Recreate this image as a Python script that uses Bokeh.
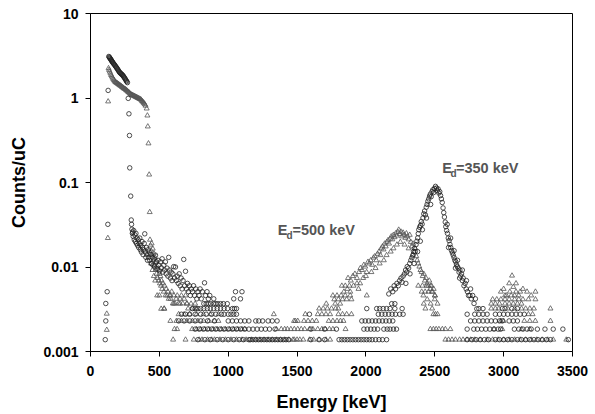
from bokeh.plotting import figure
from bokeh.models import FixedTicker, CustomJSTickFormatter, Label
from bokeh.embed import file_html
from bokeh.resources import INLINE

# ---------------- data ----------------
x_ticks = [0, 500, 1000, 1500, 2000, 2500, 3000, 3500]
y_ticks = [0.001, 0.01, 0.1, 1, 10]

# count levels of the lowest quantised rows (Counts/uC)
L3, L4, L5, L6, L7, L8, L9 = 0.00138, 0.00184, 0.0023, 0.00276, 0.00322, 0.00368, 0.00414

# ---- E_d = 350 keV (open circles) ----
c_low_x = [107, 111, 111, 121, 126, 128]
c_low_y = [0.00138, 0.0023, 0.0037, 0.0051, 0.032, 1.23]

c_curve_x = [133, 136, 139, 142, 145, 148, 151, 154, 157, 160, 164, 168, 172, 176, 180, 184, 188, 192, 196, 200,
             204, 208, 212, 216, 220, 224, 228, 232, 236, 240, 244, 248, 252, 256, 260, 264, 268]
c_curve_y = [3.10, 3.05, 3.0, 2.95, 2.9, 2.85, 2.8, 2.75, 2.7, 2.66, 2.6, 2.55, 2.5, 2.45, 2.4, 2.35, 2.3, 2.25, 2.2, 2.15,
             2.1, 2.05, 2.0, 1.98, 1.95, 1.92, 1.9, 1.87, 1.84, 1.8, 1.76, 1.72, 1.68, 1.64, 1.6, 1.56, 1.52]

c_drop_x = [274, 279, 283, 285, 292, 296, 298, 301, 304]
c_drop_y = [0.99, 0.65, 0.36, 0.149, 0.069, 0.036, 0.032, 0.028, 0.025]

c_cloud_x = [306, 310, 314, 318, 322, 326, 330, 334, 338, 342, 346, 350, 354, 358, 362, 366, 370, 374, 378, 382,
             386, 390, 394, 398, 402, 406, 410, 414, 418, 422, 426, 430, 436, 442, 448, 454, 460, 466, 472, 478,
             484, 490, 496, 502, 508, 514, 520, 526, 532, 538, 544, 550, 556, 562, 568, 574, 580, 586, 592, 598,
             604, 610, 617, 624, 630, 637, 644, 651, 658, 665, 672, 677, 684, 690, 697, 704, 711, 718, 725, 732,
             740, 748, 756, 764, 772, 780, 788, 796, 804, 812, 828, 836, 846, 856, 866, 895, 1040, 1053, 1089, 1100]
c_cloud_y = [.026, .023, .027, .021, .024, .020, .025, .019, .022, .018, .021, .017, .019, .022, .016, .018, .015, .020, .017, .014,
             .016, .019, .0247, .015, .013, .017, .014, .012, .016, .013, .015, .012, .014, .011, .013, .0105, .0125, .010, .0138, .0115,
             .0095, .012, .0105, .009, .0115, .0098, .0125, .0087, .0105, .0092, .0115, .0083, .0097, .0078, .013, .0092, .0074, .0087, .0069, .0083,
             .0101, .0074, .010, .0069, .0078, .0064, .0083, .0060, .0074, .0055, .0069, .0123, .0060, .0089, .0055, .0064, .0051, .0060, .0046, .0055,
             .0051, .0060, .0046, .0055, .0042, .0051, .0046, .0055, .0042, .0051, .0065, .0046, .0051, .0042, .0046, .0042, .0042, .0051, .0042, .0051]

c_peak_x = [2166, 2180, 2195, 2205, 2215, 2225, 2235, 2245, 2255, 2262, 2270, 2280, 2288, 2296, 2300, 2310, 2318, 2326, 2334, 2340,
            2346, 2352, 2358, 2364, 2370, 2376, 2380, 2384, 2390, 2396, 2402, 2408, 2414, 2420, 2426, 2432, 2438, 2444, 2450, 2456,
            2462, 2468, 2474, 2480, 2486, 2492, 2498, 2505, 2512, 2518, 2524, 2530, 2536, 2542, 2548, 2554, 2560, 2565, 2570, 2576,
            2580, 2586, 2592, 2598, 2604, 2610, 2616, 2622, 2628, 2634, 2640, 2646, 2652, 2658, 2664, 2670, 2676, 2682, 2688, 2694,
            2700, 2706, 2712, 2720, 2728, 2737, 2745, 2755, 2765, 2775, 2785, 2795, 2805,
            2290, 2320, 2350, 2375, 2395, 2410, 2440, 2470,
            2590, 2615, 2640, 2665, 2700, 2730, 2760, 2600, 2650, 2680]
c_peak_y = [.0048, .0055, .0051, .0060, .0055, .0064, .0060, .0069, .0074, .0066, .0078, .0083, .0092, .0087, .0101, .0097, .0110, .0120, .0129, .0138,
            .0152, .0166, .0152, .0184, .0202, .0221, .0248, .0276, .0295, .031, .0345, .0322, .038, .0426, .046, .0414, .051, .055, .060, .064,
            .069, .073, .068, .078, .082, .076, .085, .090, .086, .080, .084, .075, .078, .070, .064, .058, .050, .044, .039, .034,
            .030, .027, .025, .022, .0205, .0185, .017, .0156, .0147, .0138, .0129, .0120, .0115, .0106, .0101, .0097, .0087, .0092, .0078, .0083,
            .0069, .0074, .0060, .0064, .0055, .0051, .0046, .0046, .0042, .0046, .0037, .0042, .0032,
            .0064, .0083, .0110, .0152, .0202, .0276, .0380, .055,
            .032, .022, .0156, .0120, .0092, .0069, .0055, .017, .0097, .0074]

c_l8_x = [823, 840, 855, 872, 895, 910, 925, 945, 965, 993, 2187, 2210]
c_l7_x = [740, 760, 780, 800, 823, 848, 870, 895, 920, 944, 970, 995, 1030, 1045, 1060, 2006, 2078, 2100, 2125, 2150,
          2175, 2210, 2263, 2820, 2850, 2990, 3010, 3060, 3100]
c_l6_x = [660, 690, 720, 760, 800, 840, 880, 910, 950, 970, 1000, 1020, 1040, 1060, 1590, 2090, 2115, 2140, 2165, 2190,
          2215, 2245, 2270, 2735, 2790, 2820, 2850, 2880, 2940, 2970, 3000, 3030, 3060, 3090, 3120, 3150]
c_l5_x = [640, 680, 720, 760, 800, 850, 900, 1000, 1030, 1060, 1090, 1120, 1150, 1200, 1222, 1250, 1290, 1320, 1355, 1970,
          1995, 2020, 2045, 2070, 2095, 2120, 2145, 2170, 2195, 2760, 2790, 2820, 2850, 2880, 2910, 2940, 2970, 2990, 3040, 3070, 3100]
c_l4_x = [760, 790, 820, 850, 880, 910, 940, 970, 1000, 1030, 1060, 1090, 1120, 1150, 1180, 1210, 1240, 1270, 1300, 1340,
          1600, 1700, 1786, 1985, 2010, 2035, 2060, 2085, 2130, 2155, 2175, 2200, 2222, 2735, 2783, 2810, 2840, 2870, 2900, 2930,
          2960, 2978, 3078, 3110, 3140, 3170, 3200, 3245, 3300, 3360, 3430]
c_l3_x = [780, 830, 870, 920, 960, 1000, 1040, 1080, 1110, 1150, 1160, 1180, 1200, 1220, 1240, 1260, 1280, 1300, 1320, 1340,
          1360, 1380, 1400, 1420, 1440, 1600, 1660, 1700, 1805, 1825, 1845, 1865, 1885, 1905, 1925, 1945, 1965, 1985, 2005, 2025,
          2045, 2070, 2095, 2120, 2150, 2735, 2770, 2800, 2830, 2860, 2890, 2940, 2970, 3000, 3030, 3060, 3100, 3130, 3160, 3190,
          3220, 3250, 3280, 3310, 3340, 3470]

# ---- E_d = 500 keV (open triangles) ----
t_low_x = [118, 118, 126, 128]
t_low_y = [0.0018, 0.0028, 0.022, 0.91]

t_curve_x = [131, 135, 140, 145, 150, 155, 160, 165, 170, 175, 180, 185, 190, 195, 200, 205, 210, 215, 220, 225,
             230, 235, 240, 245, 250, 255, 260, 265, 270, 275, 280, 285, 290, 295, 300, 305, 310, 315, 320, 325,
             330, 335, 340, 345, 350, 355, 360, 365, 370, 375, 380, 385, 390, 395, 400]
t_curve_y = [2.25, 2.15, 2.05, 1.95, 1.87, 1.8, 1.74, 1.68, 1.63, 1.59, 1.55, 1.53, 1.51, 1.49, 1.47, 1.45, 1.43, 1.41, 1.39, 1.37,
             1.35, 1.33, 1.31, 1.29, 1.28, 1.26, 1.24, 1.22, 1.2, 1.18, 1.16, 1.14, 1.12, 1.1, 1.09, 1.08, 1.07, 1.06, 1.05, 1.04,
             1.03, 1.02, 1.01, 1.0, 0.99, 0.98, 0.97, 0.96, 0.94, 0.92, 0.9, 0.88, 0.86, 0.84, 0.81]

t_drop_x = [408, 413, 416, 421, 426, 430]
t_drop_y = [0.75, 0.62, 0.46, 0.29, 0.124, 0.0446]

t_cloud_x = [432, 436, 440, 444, 448, 452, 456, 460, 464, 468, 472, 476, 480, 484, 488, 492, 496, 500, 504, 508,
             512, 516, 520, 526, 532, 538, 544, 550, 556, 562, 568, 575, 582, 590, 598, 606, 614, 622, 630, 640,
             650, 660, 670, 680, 690, 700, 484, 500, 535, 513, 580, 440, 450, 460, 470]
t_cloud_y = [.021, .018, .0155, .019, .014, .0165, .012, .0145, .0105, .013, .0092, .0115, .0083, .0101, .0074, .0092, .0069, .0083, .0064, .0078,
             .0060, .0069, .0055, .0064, .0051, .0060, .0046, .0055, .0046, .0051, .0042, .0046, .0042, .0051, .0037, .0046, .0037, .0042, .0046, .0037,
             .0042, .0046, .0037, .0042, .0046, .0037, .0046, .0046, .0032, .0032, .0046, .0110, .0092, .0078, .0069]

t_bump_x = [1825, 1840, 1850, 1865, 1880, 1886, 1910, 1935, 1946, 1958, 1870, 1890, 1905, 1920, 1935, 1950, 1960, 1972, 1985, 1995,
            2005, 2015, 2025, 2035, 2045, 2055, 2065, 2075, 2085, 2095, 2105, 2112, 2120, 2128, 2136, 2144, 2152, 2160, 2168, 2176,
            2184, 2192, 2200, 2208, 2216, 2224, 2232, 2238, 2246, 2254, 2262, 2270, 2278, 2286, 2294, 2302, 2310, 2318, 2326, 2334,
            2342, 2350, 2358, 2366, 2372, 2380, 2388, 2396, 2404, 2412, 2420, 2428, 2436, 2444, 2452, 2460, 2468, 2476, 2484, 2492,
            2500, 2040, 2070, 2100, 2130, 2150, 2180, 2200, 2225, 2250, 2280, 2310, 2340, 2000, 1980, 1760, 1790, 1820, 1850, 1886,
            2006, 2417, 2502, 2405, 2430, 2455, 2478, 2380, 2410, 2440, 2470]
t_bump_y = [.0060, .0051, .0060, .0055, .0060, .0051, .0060, .0064, .0055, .0064, .0074, .0069, .0078, .0083, .0074, .0087, .0097, .0092, .0106, .0101,
            .0087, .0115, .0110, .0120, .0106, .0129, .0134, .0120, .0143, .0152, .0138, .0166, .0175, .0161, .0189, .0175, .0198, .0207, .0189, .0216,
            .0230, .0212, .0240, .0225, .0250, .0235, .0260, .0276, .0245, .0262, .0230, .0255, .0240, .0221, .0250, .0230, .0212, .0240, .0198, .0175,
            .0189, .0152, .0166, .0134, .0120, .0110, .0101, .0092, .0087, .0078, .0083, .0069, .0074, .0064, .0060, .0069, .0055, .0060, .0051, .0055,
            .0046, .0087, .0097, .0110, .0120, .0138, .0152, .0166, .0184, .0198, .0184, .0166, .0138, .0078, .0074, .0046, .0046, .0046, .0046, .0046,
            .0046, .0046, .0046, .0051, .0051, .0051, .0051, .0060, .0060, .0060, .0060]

t_cluster_x = [2980, 3000, 3020, 3045, 3070, 3090, 3110, 3140, 3170, 3200, 3231, 3040, 3090, 3061, 3010, 3055, 3120, 3080]
t_cluster_y = [.0051, .0055, .0046, .0051, .0058, .0051, .0046, .0055, .0051, .0046, .0051, .0064, .0064, .0079, .0046, .0046, .0051, .0046]

t_l9_x = [1770, 1800, 1830, 1860, 1895, 2445, 2500, 2920, 2950, 2980, 3010, 3040, 3080, 3110, 3140, 3180, 3231]
t_l8_x = [605, 650, 700, 730, 760, 1712, 1777, 1813, 2420, 2470, 2520, 2910, 2940, 2970, 3010, 3040, 3070, 3100, 3130]
t_l7_x = [535, 709, 740, 770, 1660, 1690, 1720, 1750, 1780, 1800, 2432, 2481, 2910, 2940, 2965, 3030, 3080, 3130, 3160, 3190,
          3220, 3340]
t_l6_x = [640, 680, 720, 770, 820, 870, 930, 1331, 1560, 1650, 1680, 1710, 1740, 1800, 1830, 1860, 1895, 2490, 2505, 2520,
          3180, 3210]
t_l5_x = [580, 624, 660, 700, 740, 780, 820, 860, 900, 929, 1478, 1488, 1505, 1550, 1580, 1610, 1640, 1730, 1760, 1790,
          1815, 1837, 2978, 3000, 3150, 3190, 3230, 3340]
t_l4_x = [610, 629, 738, 770, 800, 830, 860, 890, 920, 950, 980, 1010, 1040, 1070, 1100, 1120, 1350, 1385, 1410, 1430,
          1455, 1480, 1505, 1530, 1555, 1590, 1615, 1650, 1680, 1705, 1735, 1760, 1852, 2468, 2490, 2510, 2530, 2555, 2577, 2613,
          2930, 2990, 3130, 3190]
t_l3_x = [600, 690, 750, 790, 810, 850, 880, 900, 940, 980, 1020, 1060, 1100, 1130, 1170, 1200, 1230, 1260, 1290, 1320,
          1350, 1380, 1410, 1440, 1470, 1480, 1500, 1520, 1545, 1590, 1620, 1660, 1710, 1740, 2577, 2600, 2625, 2650, 2680, 2705,
          2734, 2760, 2790, 2830, 2880, 2920, 2960, 3000, 3040, 3080, 3120, 3160, 3200, 3240, 3280, 3320, 3360, 3455]

# ---------------- figure ----------------
FONT = "Liberation Sans"
p = figure(width=595, height=414, x_range=(0, 3500), y_range=(0.001, 10), y_axis_type="log",
           output_backend="svg", toolbar_location=None,
           min_border_left=90, min_border_right=23, min_border_top=13, min_border_bottom=63)
p.xgrid.visible = False
p.ygrid.visible = False
p.outline_line_color = "black"
p.outline_line_alpha = 1.0
p.outline_line_width = 1

p.xaxis.axis_label = "Energy [keV]"
p.yaxis.axis_label = "Counts/uC"
for ax in (p.xaxis[0], p.yaxis[0]):
    ax.axis_line_color = "black"
    ax.major_tick_line_color = "black"
    ax.minor_tick_line_color = None
    ax.major_tick_out = 5
    ax.major_tick_in = 0
    ax.major_label_text_font = FONT
    ax.major_label_text_font_style = "bold"
    ax.major_label_text_font_size = "14px"
    ax.major_label_text_color = "black"
    ax.axis_label_text_font = FONT
    ax.axis_label_text_font_style = "bold"
    ax.axis_label_text_font_size = "18px"
    ax.axis_label_text_color = "black"
p.xaxis.ticker = FixedTicker(ticks=x_ticks)
p.yaxis.ticker = FixedTicker(ticks=y_ticks)
p.yaxis.formatter = CustomJSTickFormatter(code="return tick.toString();")
p.xaxis.major_label_standoff = 9
p.xaxis.axis_label_standoff = 13
p.yaxis.major_label_standoff = 7
p.yaxis.axis_label_standoff = 11

tri = dict(marker="triangle", size=5, fill_color=None, line_color="#555555", line_width=0.8)
cir = dict(marker="circle", size=4.5, fill_color=None, line_color="#222222", line_width=0.8)

for xs, ys in [(t_low_x, t_low_y), (t_curve_x, t_curve_y), (t_drop_x, t_drop_y), (t_cloud_x, t_cloud_y),
               (t_bump_x, t_bump_y), (t_cluster_x, t_cluster_y)]:
    p.scatter(x=xs, y=ys, **tri)
for xs, lev in [(t_l9_x, L9), (t_l8_x, L8), (t_l7_x, L7), (t_l6_x, L6), (t_l5_x, L5), (t_l4_x, L4), (t_l3_x, L3)]:
    p.scatter(x=xs, y=lev, **tri)

for xs, ys in [(c_low_x, c_low_y), (c_curve_x, c_curve_y), (c_drop_x, c_drop_y), (c_cloud_x, c_cloud_y),
               (c_peak_x, c_peak_y)]:
    p.scatter(x=xs, y=ys, **cir)
for xs, lev in [(c_l8_x, L8), (c_l7_x, L7), (c_l6_x, L6), (c_l5_x, L5), (c_l4_x, L4), (c_l3_x, L3)]:
    p.scatter(x=xs, y=lev, **cir)

# annotations E_d=...
LAB = "#555555"
def piece(x, y, text, size):
    p.add_layout(Label(x=x, y=y, text=text, text_font=FONT, text_font_style="bold",
                       text_font_size=size, text_color=LAB, text_align="left", text_baseline="alphabetic"))

piece(2554, 0.147, "E", "14.5px")
piece(2614, 0.1295, "d", "10px")
piece(2654, 0.147, "=350 keV", "14.5px")
piece(1360, 0.02745, "E", "14.5px")
piece(1423, 0.0239, "d", "10px")
piece(1467, 0.02745, "=500 keV", "14.5px")

open("out.html", "w").write(file_html(p, INLINE))
